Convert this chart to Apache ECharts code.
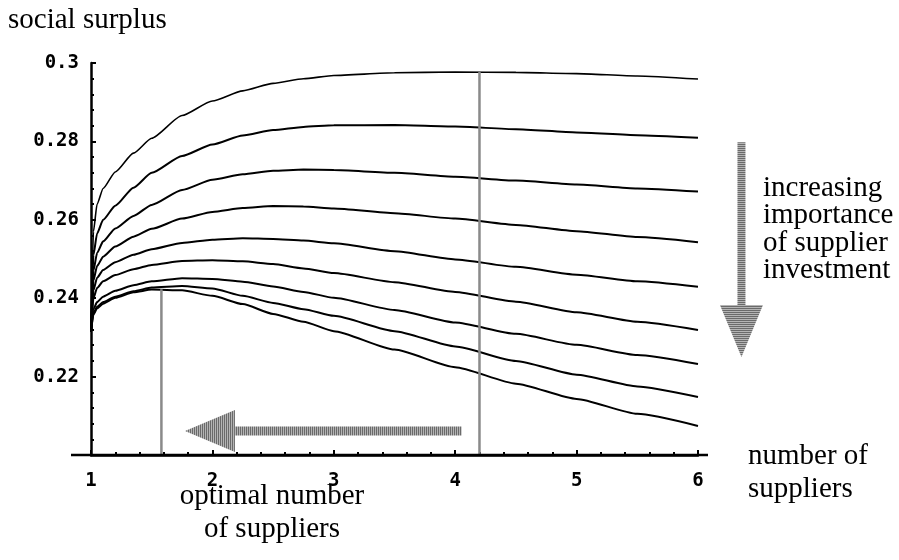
<!DOCTYPE html>
<html>
<head>
<meta charset="utf-8">
<script src="https://cdn.jsdelivr.net/npm/echarts@6/dist/echarts.min.js"></script>
<style>
html,body{margin:0;padding:0;background:#fff;}
#chart{width:899px;height:560px;}
</style>
</head>
<body>
<div id="chart"></div>
<script>
// ---- data ----
const xs = [1, 1.02, 1.05, 1.1, 1.2, 1.35, 1.5, 1.75, 2, 2.25, 2.5, 2.75, 3, 3.5, 4, 4.5, 5, 5.5, 6];
const curve1 = [0.2315, 0.2570, 0.2640, 0.2680, 0.2722, 0.2770, 0.2808, 0.2866, 0.2903, 0.2929, 0.2948, 0.2960, 0.2968, 0.2975, 0.2977, 0.2976, 0.2973, 0.2967, 0.2959];
const curve2 = [0.2315, 0.2510, 0.2565, 0.2600, 0.2636, 0.2682, 0.2720, 0.2763, 0.2792, 0.2815, 0.2829, 0.2837, 0.2841, 0.2842, 0.2838, 0.2831, 0.2823, 0.2816, 0.2809];
const curve3 = [0.2315, 0.2470, 0.2515, 0.2545, 0.2578, 0.2610, 0.2638, 0.2676, 0.2702, 0.2716, 0.2725, 0.2728, 0.2727, 0.2720, 0.2710, 0.2700, 0.2690, 0.2680, 0.2672];
const curve4 = [0.2315, 0.2445, 0.2482, 0.2506, 0.2532, 0.2557, 0.2577, 0.2603, 0.2620, 0.2630, 0.2635, 0.2634, 0.2629, 0.2617, 0.2603, 0.2587, 0.2571, 0.2556, 0.2543];
const curve5 = [0.2315, 0.2420, 0.2452, 0.2472, 0.2492, 0.2511, 0.2525, 0.2541, 0.2549, 0.2553, 0.2551, 0.2547, 0.2540, 0.2520, 0.2499, 0.2480, 0.2460, 0.2443, 0.2429];
const curve6 = [0.2315, 0.2400, 0.2426, 0.2443, 0.2459, 0.2474, 0.2485, 0.2495, 0.2497, 0.2494, 0.2487, 0.2476, 0.2464, 0.2441, 0.2416, 0.2391, 0.2364, 0.2340, 0.2319];
const curve7 = [0.2315, 0.2372, 0.2390, 0.2404, 0.2419, 0.2433, 0.2443, 0.2451, 0.2449, 0.2442, 0.2430, 0.2416, 0.2401, 0.2370, 0.2338, 0.2309, 0.2281, 0.2255, 0.2232];
const curve8 = [0.2315, 0.2362, 0.2378, 0.2390, 0.2404, 0.2418, 0.2427, 0.2431, 0.2425, 0.2406, 0.2388, 0.2372, 0.2355, 0.2316, 0.2277, 0.2240, 0.2205, 0.2175, 0.2148];
const curve9 = [0.2315, 0.2358, 0.2374, 0.2386, 0.2401, 0.2415, 0.2422, 0.2420, 0.2406, 0.2385, 0.2360, 0.2340, 0.2316, 0.2269, 0.2224, 0.2182, 0.2143, 0.2105, 0.2074];
const curves = [curve1, curve2, curve3, curve4, curve5, curve6, curve7, curve8, curve9];

// optimal-number markers: x position and the height they reach
const markerX = [1.58, 4.2];
const markerTop = [0.2423, 0.2977];
// annotation arrows: [fromX, fromY, toX(tip), toY(tip)]
const arrowH = [4.053, 0.2061, 1.774, 0.2061];
const arrowV = [6.358, 0.2798, 6.358, 0.2250];

const xTicks = [1, 2, 3, 4, 5, 6];
const yTicks = [0.22, 0.24, 0.26, 0.28, 0.3];

const yLabel = 'social surplus';
const xLabel = ['number of', 'suppliers'];
const optLabel = ['optimal number', 'of suppliers'];
const sideLabel = ['increasing', 'importance', 'of supplier', 'investment'];

// ---- patterns for hatched arrows ----
function stripe(vertical) {
  const c = document.createElement('canvas');
  c.width = vertical ? 2 : 1; c.height = vertical ? 1 : 2;
  const g = c.getContext('2d');
  g.fillStyle = '#6a6a6a'; g.fillRect(0, 0, 1, 1);
  g.fillStyle = '#b4b4b4';
  if (vertical) g.fillRect(1, 0, 1, 1); else g.fillRect(0, 1, 1, 1);
  return c;
}
const patV = stripe(true);   // vertical stripes
const patH = stripe(false);  // horizontal stripes

const chart = echarts.init(document.getElementById('chart'), null, {renderer: 'canvas'});

const lineSeries = curves.map((c, i) => ({
  type: 'line',
  data: xs.map((x, k) => [x, c[k]]),
  showSymbol: false, symbol: 'none',
  smooth: 0.2, smoothMonotone: 'x',
  lineStyle: {color: '#000', width: i === 0 ? 1.6 : 2},
  z: 2, silent: true
}));

const markerSeries = markerX.map((x, i) => ({
  type: 'line',
  data: [[x, 0.2], [x, markerTop[i]]],
  symbol: 'none',
  lineStyle: {color: '#8a8a8a', width: 2.5},
  z: 4, silent: true
}));

const SHAFT = {h: 9, v: 8}, HEAD = {h: [42, 50], v: [43, 52]};
const arrowSeries = {
  type: 'custom',
  coordinateSystem: 'cartesian2d',
  clip: false, silent: true, z: 5,
  encode: {x: [0, 2], y: [1, 3]},
  data: [arrowH.concat([0]), arrowV.concat([1])],
  renderItem: function (params, api) {
    const p1 = api.coord([api.value(0), api.value(1)]);
    const p2 = api.coord([api.value(2), api.value(3)]);
    const isV = api.value(4) === 1;
    const shaft = isV ? SHAFT.v : SHAFT.h;
    const head = isV ? HEAD.v : HEAD.h;
    const dx = p2[0] - p1[0], dy = p2[1] - p1[1];
    const L = Math.sqrt(dx * dx + dy * dy);
    const ux = dx / L, uy = dy / L, nx = -uy, ny = ux;
    const bx = p2[0] - ux * head[1], by = p2[1] - uy * head[1];
    const fill = {image: isV ? patH : patV, repeat: 'repeat'};
    return {
      type: 'group',
      children: [
        {type: 'polygon', shape: {points: [
          [p1[0] + nx * shaft / 2, p1[1] + ny * shaft / 2],
          [bx + nx * shaft / 2, by + ny * shaft / 2],
          [bx - nx * shaft / 2, by - ny * shaft / 2],
          [p1[0] - nx * shaft / 2, p1[1] - ny * shaft / 2]]},
          style: {fill: fill}},
        {type: 'polygon', shape: {points: [
          [bx + nx * head[0] / 2, by + ny * head[0] / 2],
          [p2[0], p2[1]],
          [bx - nx * head[0] / 2, by - ny * head[0] / 2]]},
          style: {fill: fill}}
      ]
    };
  }
};

const serif = '"Liberation Serif", "Times New Roman", serif';
const mono = '"DejaVu Sans Mono", monospace';
const FS = 29;

const graphics = [
  {type: 'text', x: 8, y: 20, style: {text: yLabel, font: FS + 'px ' + serif, fill: '#000', align: 'left', verticalAlign: 'middle'}},
];
xLabel.forEach((t, i) => graphics.push({type: 'text', x: 748, y: 456 + i * 33,
  style: {text: t, font: FS + 'px ' + serif, fill: '#000', align: 'left', verticalAlign: 'middle'}}));
optLabel.forEach((t, i) => graphics.push({type: 'text', x: 272, y: 496 + i * 33,
  style: {text: t, font: FS + 'px ' + serif, fill: '#000', align: 'center', verticalAlign: 'middle'}}));
sideLabel.forEach((t, i) => graphics.push({type: 'text', x: 763, y: 188.5 + i * 27.3,
  style: {text: t, font: FS + 'px ' + serif, fill: '#000', align: 'left', verticalAlign: 'middle'}}));

chart.setOption({
  animation: false,
  backgroundColor: '#fff',
  grid: {left: 91, right: 201, top: 63, bottom: 105, containLabel: false, outerBoundsMode: 'none'},
  xAxis: {
    type: 'value', min: 1, max: 6, interval: 1,
    axisLine: {show: true, lineStyle: {color: '#000', width: 2.5}},
    axisTick: {show: true, inside: true, length: 5, lineStyle: {color: '#000', width: 2}},
    minorTick: {show: true, splitNumber: 5, length: 3, lineStyle: {color: '#000', width: 2}},
    splitLine: {show: false},
    axisLabel: {show: true, customValues: xTicks, hideOverlap: false,
      margin: 17, color: '#000', fontFamily: mono, fontWeight: 'bold', fontSize: 19,
      formatter: v => String(Math.round(v))}
  },
  yAxis: {
    type: 'value', min: 0.2, max: 0.3, interval: 0.02,
    axisLine: {show: true, lineStyle: {color: '#000', width: 2.5}},
    axisTick: {show: true, inside: true, length: 5, lineStyle: {color: '#000', width: 2}},
    minorTick: {show: true, splitNumber: 5, length: 3, lineStyle: {color: '#000', width: 2}},
    splitLine: {show: false},
    axisLabel: {show: true, customValues: yTicks, hideOverlap: false,
      margin: 12, color: '#000', fontFamily: mono, fontWeight: 'bold', fontSize: 19,
      formatter: v => String(Math.round(v * 100) / 100)}
  },
  series: lineSeries.concat(markerSeries, [arrowSeries]),
  graphic: graphics
});

// extend the x axis line slightly beyond the plotting range (as in the original)
const o = chart.convertToPixel({gridIndex: 0}, [1, 0.2]);
const e = chart.convertToPixel({gridIndex: 0}, [6, 0.2]);
graphics.push({type: 'line', shape: {x1: o[0] - 20, y1: o[1], x2: e[0] + 10, y2: e[1]},
  style: {stroke: '#000', lineWidth: 2.5}, z: 10});
chart.setOption({graphic: graphics});
</script>
</body>
</html>
